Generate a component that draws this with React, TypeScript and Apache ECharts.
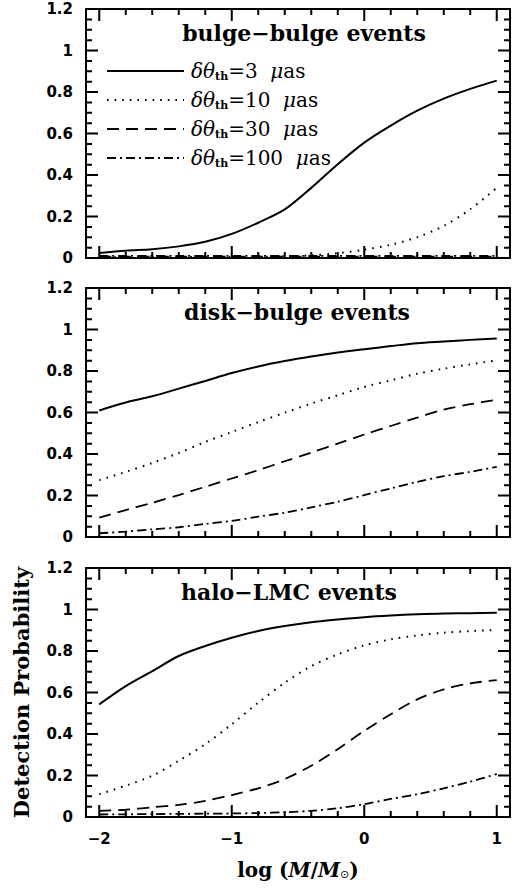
import React, { useEffect, useRef } from "react";
import * as echarts from "echarts";

// ---- data ----
const logMass = [-2, -1.8, -1.6, -1.4, -1.2, -1.0, -0.8, -0.6, -0.4, -0.2, 0, 0.2, 0.4, 0.6, 0.8, 1.0];

const seriesNames = ["δθth=3 μas", "δθth=10 μas", "δθth=30 μas", "δθth=100 μas"];
const thresholds = ["3", "10", "30", "100"];

const bulge3 = [0.024, 0.035, 0.042, 0.056, 0.078, 0.116, 0.17, 0.234, 0.338, 0.452, 0.556, 0.638, 0.71, 0.768, 0.815, 0.855];
const bulge10 = [0.004, 0.004, 0.004, 0.004, 0.005, 0.005, 0.006, 0.008, 0.013, 0.023, 0.04, 0.064, 0.1, 0.155, 0.235, 0.338];
const bulge30 = [0.006, 0.006, 0.006, 0.006, 0.006, 0.006, 0.006, 0.006, 0.006, 0.006, 0.006, 0.006, 0.006, 0.006, 0.006, 0.006];
const bulge100 = [0.01, 0.01, 0.01, 0.01, 0.01, 0.01, 0.01, 0.01, 0.01, 0.01, 0.01, 0.01, 0.01, 0.01, 0.01, 0.01];

const disk3 = [0.61, 0.648, 0.678, 0.715, 0.752, 0.79, 0.822, 0.848, 0.87, 0.889, 0.905, 0.92, 0.934, 0.942, 0.95, 0.957];
const disk10 = [0.274, 0.314, 0.357, 0.405, 0.458, 0.506, 0.554, 0.599, 0.643, 0.683, 0.723, 0.755, 0.787, 0.811, 0.832, 0.851];
const disk30 = [0.093, 0.13, 0.165, 0.202, 0.242, 0.282, 0.322, 0.365, 0.407, 0.45, 0.494, 0.535, 0.575, 0.614, 0.64, 0.662];
const disk100 = [0.018, 0.026, 0.037, 0.047, 0.063, 0.078, 0.098, 0.117, 0.143, 0.17, 0.202, 0.234, 0.266, 0.293, 0.314, 0.338];

const halo3 = [0.543, 0.631, 0.703, 0.776, 0.824, 0.864, 0.896, 0.92, 0.939, 0.952, 0.963, 0.971, 0.977, 0.981, 0.982, 0.984];
const halo10 = [0.11, 0.151, 0.199, 0.271, 0.351, 0.447, 0.551, 0.647, 0.727, 0.784, 0.827, 0.856, 0.875, 0.888, 0.896, 0.901];
const halo30 = [0.03, 0.035, 0.047, 0.058, 0.078, 0.106, 0.138, 0.183, 0.247, 0.327, 0.415, 0.495, 0.567, 0.615, 0.644, 0.66];
const halo100 = [0.012, 0.013, 0.014, 0.015, 0.016, 0.017, 0.019, 0.023, 0.03, 0.042, 0.062, 0.087, 0.11, 0.138, 0.17, 0.207];

const panelTitles = ["bulge−bulge events", "disk−bulge events", "halo−LMC events"];
const panelData = [
  [bulge3, bulge10, bulge30, bulge100],
  [disk3, disk10, disk30, disk100],
  [halo3, halo10, halo30, halo100],
];

const xMajorTicks = [-2, -1, 0, 1];
const xMinorTicks = [-1.8, -1.6, -1.4, -1.2, -0.8, -0.6, -0.4, -0.2, 0.2, 0.4, 0.6, 0.8];
const yMajorTicks = [0, 0.2, 0.4, 0.6, 0.8, 1, 1.2];
const yMinorTicks = [
  0.05, 0.1, 0.15, 0.25, 0.3, 0.35, 0.45, 0.5, 0.55, 0.65, 0.7, 0.75, 0.85, 0.9, 0.95, 1.05, 1.1, 1.15,
];

// ---- layout / styles ----
const X_MIN = -2.1;
const X_MAX = 1.1;
const Y_MIN = 0;
const Y_MAX = 1.2;
const GRID_LEFT = 86;
const GRID_RIGHT = 7;
const CHART_W = 517;
const MAJOR_LEN = 12;
const MINOR_LEN = 6;
const TICK_W = 2;
const gridTops = [9, 288, 568];
const gridHeight = 249;
const lineStyles: any[] = [
  { type: "solid", width: 2 },
  { type: [1.6, 6], width: 2 },
  { type: [12, 7], width: 1.8 },
  { type: [9, 4, 2, 4], width: 1.8 },
];

const SERIF = "'DejaVu Serif', 'Liberation Serif', serif";
const SANS = "'DejaVu Sans', 'Liberation Sans', sans-serif";

// pixel lengths -> data lengths along each axis
const PX_PER_X = (CHART_W - GRID_LEFT - GRID_RIGHT) / (X_MAX - X_MIN);
const PX_PER_Y = gridHeight / (Y_MAX - Y_MIN);

function tickLines(xi: number, yi: number, segs: any[]) {
  return {
    type: "line",
    xAxisIndex: xi,
    yAxisIndex: yi,
    data: segs,
    symbol: "none",
    showSymbol: false,
    connectNulls: false,
    clip: false,
    silent: true,
    lineStyle: { color: "#000", width: TICK_W, type: "solid", cap: "butt" },
    z: 4,
  };
}

function App() {
  const ref = useRef<HTMLDivElement>(null);
  useEffect(() => {
    if (!ref.current) return;
    const chart = echarts.init(ref.current, undefined, { renderer: "svg" });

    const grids: any[] = [];
    const xAxes: any[] = [];
    const yAxes: any[] = [];
    const series: any[] = [];

    const frameLine = { color: "#000", width: 2 };

    gridTops.forEach((top, gi) => {
      const last = gi === gridTops.length - 1;
      grids.push({ show: false, left: GRID_LEFT, right: GRID_RIGHT, top, height: gridHeight });

      const xi = xAxes.length;
      xAxes.push({
        type: "value", gridIndex: gi, position: "bottom", min: X_MIN, max: X_MAX,
        splitLine: { show: false }, axisTick: { show: false },
        axisLine: { show: true, onZero: false, lineStyle: frameLine },
        axisLabel: last
          ? {
              show: true,
              customValues: xMajorTicks,
              formatter: (v: number) => String(v).replace("-", "−"),
              fontFamily: SANS, fontWeight: "bold", fontSize: 15, color: "#000", margin: 14,
            }
          : { show: false },
        ...(last
          ? {
              name: "{n|log (}{i|M}{n|/}{i|M}{s|⊙}{n|)}",
              nameLocation: "middle",
              nameGap: 42,
              nameTextStyle: {
                rich: {
                  n: { fontFamily: SERIF, fontSize: 20, color: "#000", fontWeight: "bold" },
                  i: { fontFamily: SERIF, fontSize: 20, color: "#000", fontStyle: "italic", fontWeight: "bold" },
                  s: { fontFamily: SANS, fontSize: 11, color: "#000", padding: [10, 0, 0, 0] },
                },
              },
            }
          : {}),
      });
      xAxes.push({
        type: "value", gridIndex: gi, position: "top", min: X_MIN, max: X_MAX,
        splitLine: { show: false }, axisTick: { show: false }, axisLabel: { show: false },
        axisLine: { show: true, onZero: false, lineStyle: frameLine },
      });

      const yi = yAxes.length;
      yAxes.push({
        type: "value", gridIndex: gi, position: "left", min: Y_MIN, max: Y_MAX, interval: 0.2,
        splitLine: { show: false }, axisTick: { show: false },
        axisLine: { show: true, onZero: false, lineStyle: frameLine },
        axisLabel: { show: true, fontFamily: SANS, fontWeight: "bold", fontSize: 15, color: "#000", margin: 13 },
        ...(last
          ? {
              name: "Detection Probability", nameLocation: "middle", nameGap: 54,
              nameTextStyle: { fontFamily: SERIF, fontSize: 21, color: "#000", fontWeight: "bold" },
            }
          : {}),
      });
      yAxes.push({
        type: "value", gridIndex: gi, position: "right", min: Y_MIN, max: Y_MAX, interval: 0.2,
        splitLine: { show: false }, axisTick: { show: false }, axisLabel: { show: false },
        axisLine: { show: true, onZero: false, lineStyle: frameLine },
      });

      // data curves
      panelData[gi].forEach((vals, k) => {
        series.push({
          type: "line",
          name: seriesNames[k],
          xAxisIndex: xi,
          yAxisIndex: yi,
          data: logMass.map((x, j) => [x, vals[j]]),
          symbol: "none",
          showSymbol: false,
          smooth: 0.3,
          lineStyle: { color: "#000", ...lineStyles[k] },
          itemStyle: { color: "#000" },
          z: 3,
        });
      });

      // inward ticks as short broken line segments through the axes' scales
      const xSegs: any[] = [];
      const addX = (v: number, lenPx: number) => {
        const dy = lenPx / PX_PER_Y;
        xSegs.push([v, Y_MIN], [v, Y_MIN + dy], [v, "-"]);
        xSegs.push([v, Y_MAX], [v, Y_MAX - dy], [v, "-"]);
      };
      xMajorTicks.forEach((v) => addX(v, MAJOR_LEN));
      xMinorTicks.forEach((v) => addX(v, MINOR_LEN));
      const ySegs: any[] = [];
      const addY = (v: number, lenPx: number) => {
        const dx = lenPx / PX_PER_X;
        ySegs.push([X_MIN, v], [X_MIN + dx, v], ["-", v]);
        ySegs.push([X_MAX, v], [X_MAX - dx, v], ["-", v]);
      };
      yMajorTicks.forEach((v) => addY(v, MAJOR_LEN));
      yMinorTicks.forEach((v) => addY(v, MINOR_LEN));
      series.push(tickLines(xi, yi, xSegs));
      series.push(tickLines(xi, yi, ySegs));
    });

    const legendRich = {
      g: { fontFamily: SERIF, fontSize: 20, fontStyle: "italic", color: "#000" },
      s: { fontFamily: SERIF, fontSize: 11, fontWeight: "bold", color: "#000", padding: [11, 0, 0, 0] },
      n: { fontFamily: SERIF, fontSize: 20, color: "#000" },
    };

    const centers = [304, 297, 289];
    const graphics: any[] = panelTitles.map((t, i) => ({
      type: "text",
      x: centers[i],
      y: gridTops[i] + 24,
      z: 100,
      style: {
        text: t, fontFamily: SERIF, fontSize: 22, fontWeight: "bold", fill: "#000",
        align: "center", verticalAlign: "middle",
      },
    }));

    chart.setOption({
      animation: false,
      backgroundColor: "#fff",
      grid: grids,
      xAxis: xAxes,
      yAxis: yAxes,
      series,
      legend: {
        data: seriesNames,
        orient: "vertical",
        left: 101,
        top: 56,
        itemWidth: 77,
        itemHeight: 12,
        itemGap: 8,
        selectedMode: false,
        itemStyle: { opacity: 0, borderWidth: 0 },
        formatter: (name: string) => {
          const k = seriesNames.indexOf(name);
          return `{g|δθ}{s|th}{n|=${thresholds[k]}  }{g|μ}{n|as}`;
        },
        textStyle: { rich: legendRich, padding: [0, 0, 0, 2] },
      },
      graphic: graphics,
    });

    return () => chart.dispose();
  }, []);
  return <div ref={ref} style={{ width: 517, height: 888, position: "absolute", left: 0, top: 0 }} />;
}

export default App;
